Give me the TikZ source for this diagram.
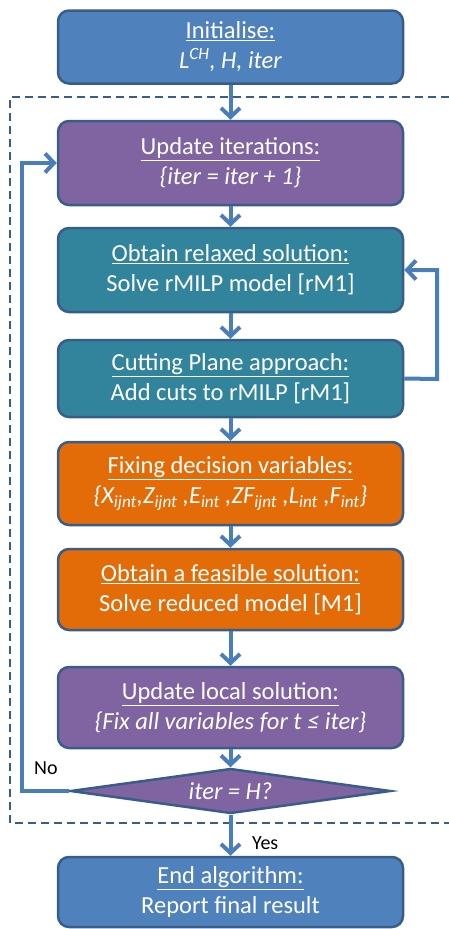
\documentclass[tikz,border=0pt]{standalone}
\usepackage{fontspec}
\setmainfont{Carlito}
\usetikzlibrary{arrows.meta,shapes.geometric}
\definecolor{cblue}{HTML}{4F81BD}
\definecolor{cpurple}{HTML}{8064A2}
\definecolor{cteal}{HTML}{31849B}
\definecolor{corange}{HTML}{E36C09}
\definecolor{cborder}{HTML}{385D8A}
\definecolor{carrow}{HTML}{4A7EBB}
\begin{document}
\begin{tikzpicture}[x=1pt,y=-1pt,
  box/.style={draw=cborder, line width=2.5pt, rounded corners=11pt, minimum width=345pt,
    text=white, align=center, inner sep=2pt, font=\fontsize{24.5}{30}\selectfont},
  flow/.style={draw=carrow, line width=4pt, -{Straight Barb[length=9pt,width=19pt,line width=4pt]}},
  lbl/.style={font=\fontsize{20}{22}\selectfont, text=black, inner sep=0pt},
  frame/.style={draw=cborder, line width=2pt, dash pattern=on 8pt off 5pt}]
\useasboundingbox (0,0) rectangle (449,929);
\draw[frame] (449,97) -- (10,97) -- (10,823) -- (449,823);
\node[box, fill=cblue, minimum height=73pt] (init) at (230.5,47) {\underline{Initialise:}\\\textit{L\textsuperscript{CH}, H, iter}};
\node[box, fill=cpurple, minimum height=84pt] (upd) at (230.5,163) {\underline{Update iterations:}\\\textit{\{iter = iter + 1\}}};
\node[box, fill=cteal, minimum height=84pt] (rel) at (230.5,270) {\underline{Obtain relaxed solution:}\\Solve rMILP model [rM1]};
\node[box, fill=cteal, minimum height=77pt] (cut) at (230.5,378.5) {\underline{Cutting Plane approach:}\\Add cuts to rMILP [rM1]};
\node[box, fill=corange, minimum height=83pt] (fix) at (230.5,483.5) {\underline{Fixing decision variables:}\\\textit{\{X\textsubscript{ijnt},Z\textsubscript{ijnt} ,E\textsubscript{int} ,ZF\textsubscript{ijnt} ,L\textsubscript{int} ,F\textsubscript{int}\}}};
\node[box, fill=corange, minimum height=81pt] (feas) at (230.5,589.5) {\underline{Obtain a feasible solution:}\\Solve reduced model [M1]};
\node[box, fill=cpurple, minimum height=81pt] (loc) at (230.5,707.5) {\underline{Update local solution:}\\\textit{\{Fix all variables for t ≤ iter\}}};
\node[diamond, draw=cborder, line width=2.5pt, fill=cpurple, aspect=7, minimum width=320pt, minimum height=45pt, inner sep=0pt, text=white, font=\fontsize{24.5}{28}\selectfont] (dec) at (230.5,791) {\textit{iter = H?}};
\node[box, fill=cblue, minimum height=70pt] (end) at (230.5,892) {\underline{End algorithm:}\\Report final result};
\draw[flow] (init) -- (upd);
\draw[flow] (upd) -- (rel);
\draw[flow] (rel) -- (cut);
\draw[flow] (cut) -- (fix);
\draw[flow] (fix) -- (feas);
\draw[flow] (feas) -- (loc);
\draw[flow] (loc) -- (dec);
\draw[flow] (dec) -- (end);
\coordinate (lx) at (22,791);
\coordinate (rx) at (437,379);
\draw[flow] (dec.west) -- (lx) |- (upd.west);
\draw[flow] (cut.east) -- (rx) |- (rel.east);
\node[lbl, anchor=west] (no) at (34,768) {No};
\node[lbl, anchor=west] (yes) at (252,843) {Yes};
\end{tikzpicture}
\end{document}
